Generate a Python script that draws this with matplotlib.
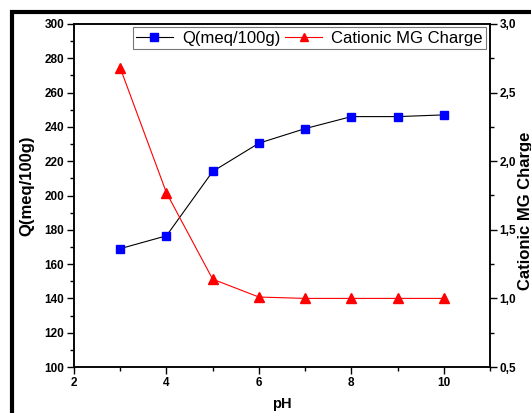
import matplotlib
matplotlib.use('Agg')
import matplotlib.pyplot as plt
from matplotlib.patches import Rectangle
from matplotlib.ticker import MultipleLocator, FuncFormatter

plt.rcParams['font.family'] = ['Liberation Sans', 'DejaVu Sans']

# data
ph = [3, 4, 5, 6, 7, 8, 9, 10]
q_values = [169, 176.5, 214, 230.5, 239, 246, 246, 247]
mg_charge = [2.68, 1.77, 1.14, 1.01, 1.0, 1.0, 1.0, 1.0]

fig = plt.figure(figsize=(5.31, 4.13), dpi=100)
ax = fig.add_axes([74 / 531, 1 - 367 / 413, 416 / 531, 343 / 413])
ax2 = ax.twinx()

l1, = ax.plot(ph, q_values, color='black', lw=0.8, marker='s', ms=6,
              mfc='blue', mec='blue', label='Q(meq/100g)')
l2, = ax2.plot(ph, mg_charge, color='red', lw=0.8, marker='^', ms=7,
               mfc='red', mec='red', label='Cationic MG Charge')

ax.set_xlim(2, 11)
ax.set_ylim(100, 300)
ax2.set_ylim(0.5, 3.0)

ax.xaxis.set_major_locator(MultipleLocator(2))
ax.xaxis.set_minor_locator(MultipleLocator(1))
ax.yaxis.set_major_locator(MultipleLocator(20))
ax.yaxis.set_minor_locator(MultipleLocator(10))
ax2.yaxis.set_major_locator(MultipleLocator(0.5))
ax2.yaxis.set_minor_locator(MultipleLocator(0.25))
ax2.yaxis.set_major_formatter(FuncFormatter(lambda v, p: f"{v:.1f}".replace('.', ',')))

for a in (ax, ax2):
    a.tick_params(which='major', direction='out', length=5, width=1,
                  labelsize=8.5, pad=2)
    a.tick_params(which='minor', direction='out', length=3, width=1)
    for s in a.spines.values():
        s.set_linewidth(1.1)
    for lab in a.get_xticklabels() + a.get_yticklabels():
        lab.set_fontweight('bold')

ax.set_xlabel('pH', fontsize=10.5, fontweight='bold', labelpad=6)
ax.set_ylabel('Q(meq/100g)', fontsize=12, fontweight='bold')
ax.yaxis.set_label_coords(-0.096, 0.528)
ax2.set_ylabel('Cationic MG Charge', fontsize=12, fontweight='bold')
ax2.yaxis.set_label_coords(1.067, 0.455)

leg = ax2.legend([l1, l2], [l1.get_label(), l2.get_label()], ncol=2,
                 loc='upper right', bbox_to_anchor=(0.99, 0.99),
                 borderaxespad=0, fontsize=12, frameon=True, fancybox=False,
                 handlelength=2.2, handletextpad=0.55, columnspacing=0.3,
                 borderpad=0.2, markerscale=0.9)
leg.get_frame().set_edgecolor('#555555')
leg.get_frame().set_linewidth(0.8)

# thick frame of the cropped original
fig.add_artist(Rectangle((12 / 531, -0.2), 1.2, 1.2 - 12 / 413,
                         transform=fig.transFigure, fill=False,
                         edgecolor='black', linewidth=3))

plt.savefig('out.png', dpi=100)
plt.close()
